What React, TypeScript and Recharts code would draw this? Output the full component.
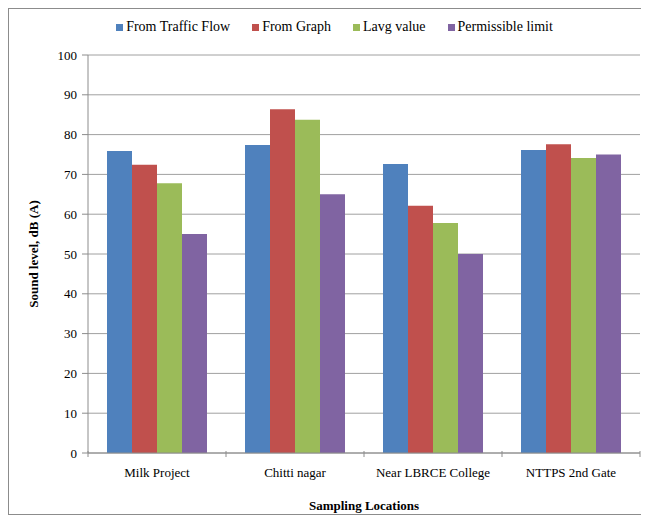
import { BarChart, Bar, XAxis, YAxis, CartesianGrid } from "recharts";

const LOCATIONS = ["Milk Project", "Chitti nagar", "Near LBRCE  College", "NTTPS 2nd Gate"];
const TRAFFIC_FLOW = [75.9, 77.4, 72.6, 76.1];
const FROM_GRAPH = [72.4, 86.4, 62.1, 77.6];
const LAVG = [67.8, 83.7, 57.8, 74.1];
const PERMISSIBLE = [55, 65, 50, 75];
const Y_TICKS = [0, 10, 20, 30, 40, 50, 60, 70, 80, 90, 100];

const SERIES = [
  { key: "traffic", name: "From Traffic Flow", color: "#4f81bd" },
  { key: "graph", name: "From Graph", color: "#c0504d" },
  { key: "lavg", name: "Lavg value", color: "#9bbb59" },
  { key: "limit", name: "Permissible limit", color: "#8064a2" },
];

const data = LOCATIONS.map((loc, i) => ({
  loc,
  traffic: TRAFFIC_FLOW[i],
  graph: FROM_GRAPH[i],
  lavg: LAVG[i],
  limit: PERMISSIBLE[i],
}));

const FONT = "'Liberation Serif', 'Times New Roman', serif";
const AXIS_GRAY = "#8c8c8c";
const BAND = 138;

function CategoryTick(props: any) {
  const { x, y, payload, index } = props;
  const half = BAND / 2;
  return (
    <g>
      <line x1={x - half} y1={y - 10} x2={x - half} y2={y - 4} stroke={AXIS_GRAY} />
      {index === LOCATIONS.length - 1 && (
        <line x1={x + half} y1={y - 10} x2={x + half} y2={y - 4} stroke={AXIS_GRAY} />
      )}
      <text x={x} y={y + 16} textAnchor="middle" fontFamily={FONT} fontSize={13} fill="#000">
        {payload.value}
      </text>
    </g>
  );
}

export default function App() {
  return (
    <div
      style={{
        position: "relative",
        width: 633,
        height: 505,
        border: "1px solid #8c8c8c",
        background: "#fff",
      }}
    >
      <div
        style={{
          position: "absolute",
          top: 10,
          left: 9,
          width: 633,
          display: "flex",
          justifyContent: "center",
          gap: 22,
          fontFamily: FONT,
          fontSize: 14,
          color: "#000",
        }}
      >
        {SERIES.map((s) => (
          <div key={s.key} style={{ display: "flex", alignItems: "center", gap: 3 }}>
            <span style={{ display: "inline-block", width: 7, height: 7, background: s.color }} />
            <span>{s.name}</span>
          </div>
        ))}
      </div>
      <BarChart
        width={633}
        height={505}
        data={data}
        margin={{ top: 46, right: 2, left: 0, bottom: 0 }}
        barCategoryGap={19}
        barGap={0}
        style={{ position: "absolute", top: 0, left: 0 }}
      >
        <CartesianGrid vertical={false} stroke="#a0a0a0" />
        <XAxis
          dataKey="loc"
          height={61}
          stroke={AXIS_GRAY}
          tickLine={false}
          tick={<CategoryTick />}
          interval={0}
          label={{
            content: ({ viewBox }: any) => (
              <text
                x={viewBox.x + viewBox.width / 2}
                y={viewBox.y + 57}
                textAnchor="middle"
                fontFamily={FONT}
                fontSize={13}
                fontWeight="bold"
                fill="#000"
              >
                Sampling Locations
              </text>
            ),
          }}
        />
        <YAxis
          width={79}
          domain={[0, 100]}
          ticks={Y_TICKS}
          interval={0}
          stroke={AXIS_GRAY}
          tickSize={6}
          tickMargin={5}
          tick={{ fontFamily: FONT, fontSize: 13, fill: "#000" }}
          label={{
            content: ({ viewBox }: any) => {
              const cy = viewBox.y + viewBox.height / 2;
              return (
                <text
                  x={24}
                  y={cy}
                  transform={`rotate(-90, 24, ${cy})`}
                  textAnchor="middle"
                  dominantBaseline="central"
                  fontFamily={FONT}
                  fontSize={13}
                  fontWeight="bold"
                  fill="#000"
                >
                  Sound level, dB (A)
                </text>
              );
            },
          }}
        />
        {SERIES.map((s) => (
          <Bar key={s.key} dataKey={s.key} name={s.name} fill={s.color} isAnimationActive={false} />
        ))}
      </BarChart>
    </div>
  );
}
